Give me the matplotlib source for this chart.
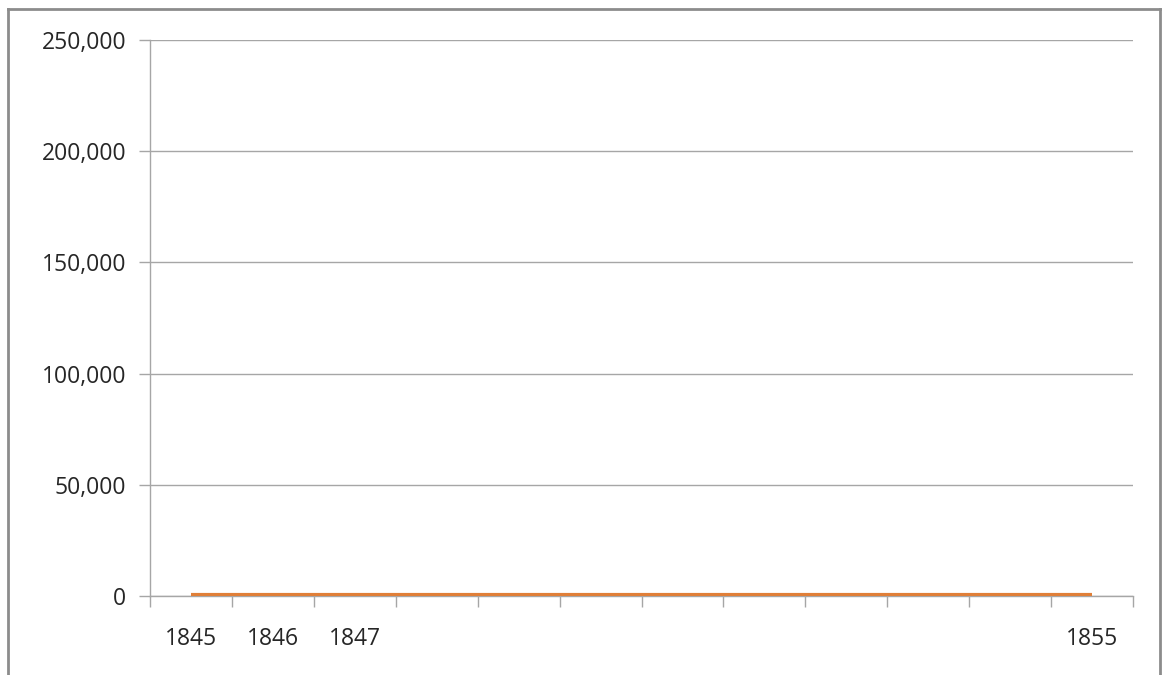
import matplotlib.pyplot as plt
import numpy as np
from matplotlib.lines import Line2D
from matplotlib.ticker import FuncFormatter

# categories: only some years are labelled in the source chart
years = ['1845', '1846', '1847', '', '', '', '', '', '', '', '', '1855']
values = [500, 500, 500, 500, 500, 500, 500, 500, 500, 500, 500, 500]
y_ticks = [0, 50000, 100000, 150000, 200000, 250000]

grid_col = '#A6A6A6'
line_col = '#E07F38'

plt.rcParams['font.family'] = ['Open Sans', 'DejaVu Sans']

fig = plt.figure(figsize=(11.63, 6.75), dpi=100)
ax = fig.add_axes([150 / 1163, 1 - 596 / 675, (1133 - 150) / 1163, (596 - 40) / 675])

x = np.arange(len(years))
ax.plot(x, values, color=line_col, lw=3, solid_capstyle='butt', zorder=3)

ax.set_xlim(-0.5, len(years) - 0.5)
ax.set_ylim(0, 250000)
ax.set_yticks(y_ticks)
ax.yaxis.set_major_formatter(FuncFormatter(lambda v, p: f'{int(v):,}'))
ax.grid(axis='y', color=grid_col, lw=1)
ax.set_axisbelow(True)

ax.set_xticks(x)
ax.set_xticklabels(years)
ax.set_xticks(np.arange(-0.5, len(years)), minor=True)
ax.tick_params(axis='x', which='major', length=0, pad=22, labelsize=16.5, colors='#262626')
ax.tick_params(axis='x', which='minor', length=8, width=1, color=grid_col)
ax.tick_params(axis='y', length=8, width=1, color=grid_col, pad=9, labelsize=16.5,
               labelcolor='#262626')

for s in ['top', 'right']:
    ax.spines[s].set_visible(False)
for s in ['left', 'bottom']:
    ax.spines[s].set_color(grid_col)
    ax.spines[s].set_linewidth(1)

# outer chart border (left, top, right)
bc = '#8C8C8C'
fig.add_artist(Line2D([8 / 1163, 8 / 1163], [0, 1 - 9 / 675], color=bc, lw=2))
fig.add_artist(Line2D([8 / 1163, 1160 / 1163], [1 - 9 / 675, 1 - 9 / 675], color=bc, lw=2))
fig.add_artist(Line2D([1160 / 1163, 1160 / 1163], [0, 1 - 9 / 675], color=bc, lw=2))

fig.savefig('out.png', dpi=100)
